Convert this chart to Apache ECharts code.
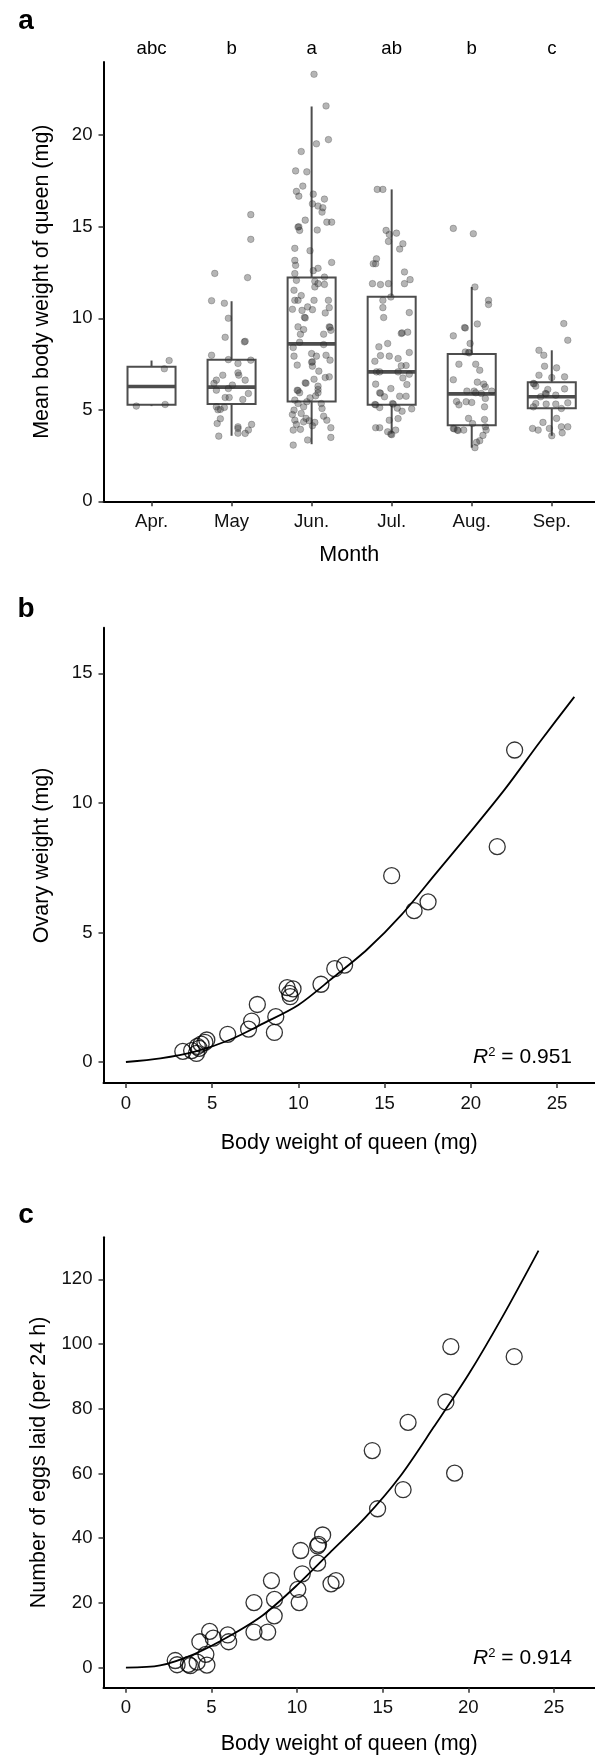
<!DOCTYPE html>
<html lang="en">
<head>
    <meta charset="UTF-8">
    <title>Queen body weight</title>
    <script src="https://cdn.jsdelivr.net/npm/echarts@6/dist/echarts.min.js"></script>
    <style>
        html, body { margin: 0; padding: 0; background: #fff; }
        #main { width: 595px; height: 1756px; }
    </style>
</head>
<body>
<div id="main"></div>
<script>
    // ---- panel a : monthly body weight ----
    var months = ['Apr.', 'May', 'Jun.', 'Jul.', 'Aug.', 'Sep.'];
    var groupLetters = ['abc', 'b', 'a', 'ab', 'b', 'c'];
    // [min, q1, median, q3, max]
    var boxStats = [
        [5.20, 5.27, 6.27, 7.35, 7.69],
        [3.58, 5.31, 6.24, 7.73, 10.93],
        [3.12, 5.45, 8.60, 12.22, 21.57],
        [3.70, 5.27, 7.07, 11.17, 17.04],
        [2.93, 4.15, 5.87, 8.05, 11.71],
        [3.58, 5.09, 5.71, 6.51, 8.25]
    ];
    // jittered points: [offset from month centre, weight]
    var aprPts = [[0.22, 7.69], [0.16, 7.24], [-0.19, 5.2], [0.17, 5.29]];
    var mayPts = [[-0.21, 12.45], [0.2, 12.22], [0.24, 15.66], [0.24, 14.31], [-0.25, 10.96], [-0.09, 10.82], [-0.04, 10.0],
        [-0.08, 8.96], [0.16, 8.71], [0.17, 8.74], [-0.25, 7.98], [-0.04, 7.74], [0.24, 7.71], [0.08, 7.53], [-0.11, 6.89],
        [0.09, 6.89], [0.08, 7.02], [0.17, 6.62], [-0.19, 6.62], [-0.22, 6.44], [0.01, 6.35], [-0.04, 6.16], [-0.19, 6.07],
        [0.21, 5.89], [-0.08, 5.67], [-0.03, 5.67], [0.14, 5.56], [-0.19, 5.16], [-0.14, 5.02], [-0.17, 5.0], [-0.09, 5.13],
        [-0.14, 4.51], [-0.18, 4.25], [0.25, 4.2], [0.08, 4.07], [0.08, 3.98], [0.21, 3.89], [0.17, 3.71], [0.08, 3.72], [-0.16, 3.56]];
    var junPts = [[0.03, 23.33], [0.18, 21.6], [0.21, 19.76], [0.06, 19.53], [-0.13, 19.11], [-0.2, 18.05], [-0.06, 18.0],
        [-0.11, 17.22], [-0.19, 16.93], [-0.16, 16.67], [0.02, 16.78], [0.16, 16.51], [0.01, 16.25], [0.08, 16.13], [0.14, 16.04],
        [0.13, 15.8], [-0.08, 15.36], [0.19, 15.25], [0.25, 15.25], [-0.17, 14.98], [-0.16, 15.0], [-0.15, 14.8], [0.07, 14.82],
        [-0.21, 13.82], [-0.02, 13.69], [-0.21, 13.16], [-0.2, 12.89], [0.25, 13.05], [0.08, 12.73], [0.02, 12.6], [-0.21, 12.44],
        [-0.19, 12.07], [0.04, 12.02], [0.16, 12.25], [0.08, 11.89], [0.16, 11.85], [0.04, 11.71], [-0.22, 11.53], [-0.13, 11.24],
        [-0.21, 10.98], [-0.17, 10.98], [0.03, 10.98], [0.21, 10.98], [0.22, 10.58], [-0.24, 10.49], [-0.12, 10.43], [-0.05, 10.62],
        [0.01, 10.47], [0.17, 10.29], [-0.09, 10.05], [-0.08, 10.02], [-0.17, 9.53], [-0.1, 9.38], [-0.14, 9.13], [0.22, 9.53],
        [0.23, 9.5], [0.24, 9.34], [0.15, 9.13], [-0.15, 8.69], [0.15, 8.56], [-0.23, 8.4], [-0.22, 7.93], [0, 8.07], [0.06, 7.93],
        [0.18, 7.98], [0.01, 7.62], [0.0, 7.6], [0.23, 7.71], [-0.18, 7.44], [0.01, 7.38], [0.09, 7.11], [0.17, 6.76], [0.22, 6.8],
        [0.03, 6.67], [-0.08, 6.47], [-0.07, 6.45], [0.08, 6.29], [-0.18, 6.07], [-0.17, 6.05], [-0.15, 5.93], [0.08, 6.11], [0.08, 5.93],
        [0.05, 5.76], [-0.02, 5.65], [-0.21, 5.53], [-0.06, 5.44], [-0.17, 5.34], [0.12, 5.34], [0.13, 5.07], [-0.1, 5.16],
        [-0.22, 4.98], [-0.13, 4.8], [-0.07, 4.53], [-0.03, 4.4], [0.04, 4.31], [0.15, 4.65], [0.19, 4.43], [-0.21, 4.43],
        [-0.19, 4.2], [-0.24, 4.74], [-0.1, 4.34], [0.01, 4.13], [-0.23, 3.89], [-0.14, 3.93], [0.24, 4.02], [0.24, 3.49],
        [-0.05, 3.35], [-0.23, 3.07]];
    var julPts = [[-0.18, 17.04], [-0.11, 17.04], [-0.07, 14.8], [-0.03, 14.58], [0.06, 14.65], [-0.04, 14.2], [0.14, 14.07],
        [0.1, 13.78], [-0.19, 13.25], [-0.23, 12.98], [-0.2, 12.98], [0.16, 12.53], [0.23, 12.11], [0.16, 11.89], [-0.04, 11.89],
        [-0.14, 11.84], [-0.24, 11.89], [-0.01, 11.16], [-0.11, 10.98], [-0.11, 10.58], [0.22, 10.31], [-0.1, 10.04], [0.13, 9.2],
        [0.12, 9.17], [0.2, 9.24], [-0.16, 8.44], [-0.05, 8.62], [0.22, 8.13], [-0.14, 7.96], [-0.03, 7.93], [0.08, 7.8],
        [-0.21, 7.65], [0.12, 7.4], [0.18, 7.42], [-0.19, 7.07], [-0.15, 7.07], [0.08, 7.07], [0.22, 6.94], [0.14, 6.74],
        [-0.2, 6.4], [0.19, 6.38], [-0.01, 6.16], [-0.15, 5.93], [-0.14, 5.9], [-0.09, 5.71], [0.1, 5.74], [0.18, 5.74],
        [-0.21, 5.29], [-0.2, 5.27], [0.01, 5.34], [0.02, 5.31], [-0.15, 5.12], [0.07, 5.09], [0.13, 4.92], [0.25, 5.05],
        [-0.03, 4.43], [0.08, 4.52], [-0.2, 4.02], [-0.15, 4.02], [-0.05, 3.8], [-0.01, 3.67], [0.0, 3.64], [0.05, 3.89]];
    var augPts = [[-0.23, 14.91], [0.02, 14.62], [0.04, 11.71], [0.21, 10.98], [0.21, 10.75], [-0.09, 9.49], [-0.08, 9.47],
        [0.07, 9.69], [-0.23, 9.04], [-0.02, 8.62], [-0.08, 8.16], [-0.04, 8.13], [-0.03, 8.11], [-0.16, 7.49], [0.05, 7.49],
        [0.1, 7.16], [-0.23, 6.64], [0.07, 6.51], [0.15, 6.4], [0.17, 6.25], [-0.06, 6.02], [0.03, 6.02], [0.05, 5.93],
        [0.12, 5.89], [0.25, 6.02], [0.17, 5.62], [-0.19, 5.45], [-0.16, 5.27], [-0.07, 5.44], [0, 5.4], [0.16, 5.16],
        [-0.04, 4.53], [-0.23, 3.98], [-0.22, 3.96], [-0.18, 3.89], [-0.17, 3.87], [-0.1, 3.89], [0.01, 4.25], [0.16, 4.47],
        [0.17, 4.07], [0.18, 3.89], [0.14, 3.6], [0.1, 3.31], [0.06, 3.22], [0.04, 2.93]];
    var sepPts = [[0.15, 9.71], [0.2, 8.8], [-0.16, 8.25], [-0.1, 7.98], [-0.09, 7.38], [0.06, 7.29], [-0.16, 6.89],
        [0.16, 6.8], [0, 6.76], [-0.23, 6.44], [-0.22, 6.42], [-0.2, 6.29], [-0.05, 6.11], [0.16, 6.14], [-0.08, 5.89],
        [-0.07, 5.87], [0.05, 5.8], [-0.14, 5.71], [0.2, 5.38], [-0.2, 5.34], [-0.07, 5.31], [0.05, 5.31], [0.12, 5.07],
        [-0.23, 5.16], [-0.24, 3.98], [-0.17, 3.89], [-0.11, 4.31], [-0.03, 3.98], [0, 3.58], [0.12, 4.07], [0.06, 4.53],
        [0.2, 4.07], [0.13, 3.74]];
    var monthPts = [aprPts, mayPts, junPts, julPts, augPts, sepPts];

    // ---- panel b : ovary weight vs body weight ----
    var bodyB = [15.41, 21.53, 16.71, 17.52, 12.68, 12.11, 11.31, 9.35, 9.69, 9.49, 9.53, 7.62, 8.69, 7.29, 7.11, 8.61,
        5.9, 4.69, 4.58, 4.36, 4.25, 4.09, 3.81, 3.3, 4.14, 22.54];
    var ovaryB = [7.19, 8.31, 5.84, 6.18, 3.74, 3.6, 3.0, 2.87, 2.82, 2.65, 2.52, 2.22, 1.75, 1.58, 1.27, 1.14,
        1.07, 0.85, 0.76, 0.69, 0.53, 0.33, 0.44, 0.41, 0.6, 12.04];
    // fitted curve
    var fitXB = [0, 2, 4, 6, 8, 10, 12, 14, 16, 18, 20, 22, 24, 26];
    var fitYB = [0, 0.14, 0.4, 0.85, 1.5, 2.2, 3.25, 4.35, 5.7, 7.3, 8.9, 10.55, 12.35, 14.09];

    // ---- panel c : eggs laid vs body weight ----
    var bodyC = [14.39, 16.48, 19.2, 16.19, 14.7, 11.49, 11.25, 11.2, 10.21, 11.2, 10.3, 10.04, 10.12, 12.27, 11.98,
        8.5, 8.68, 8.66, 7.48, 7.48, 8.28, 5.95, 6.0, 4.89, 5.1, 4.32, 4.67, 4.16, 4.73, 3.76, 3.65, 2.88, 2.99,
        18.98, 22.68, 18.69];
    var eggsC = [67.1, 75.8, 60.1, 55.0, 49.1, 41.0, 38.1, 37.6, 36.2, 32.3, 29.0, 24.2, 20.1, 26.9, 25.9,
        26.9, 21.1, 16.0, 20.1, 11.0, 11.0, 10.1, 8.0, 11.2, 9.1, 8.0, 4.1, 1.7, 0.8, 0.6, 1.0, 2.2, 0.9,
        99.2, 96.1, 82.1];
    var fitXC = [0, 2, 4, 6, 8, 10, 12, 14, 16, 18, 20, 22, 24.1];
    var fitYC = [0, 0.7, 4.2, 9.6, 16.2, 25.5, 36, 46.5, 59, 74.5, 90.5, 108.5, 128.9];

    var FONT = '"Liberation Sans", Arial, sans-serif';
    var tickFs = 18.6, titleFs = 21.5;

    function zip(xs, ys) {
        return xs.map(function (x, i) { return [x, ys[i]]; });
    }

    function axisBase(extra) {
        var a = {
            type: 'value',
            splitLine: {show: false},
            axisLine: {show: true, onZero: false, lineStyle: {color: '#000', width: 2}},
            axisTick: {show: true, length: 5, lineStyle: {color: '#333', width: 1.5}},
            axisLabel: {color: '#111', fontSize: tickFs, fontFamily: FONT},
            nameTextStyle: {color: '#000', fontSize: titleFs, fontFamily: FONT},
            nameLocation: 'middle'
        };
        for (var k in extra) {
            if (typeof extra[k] === 'object' && a[k] && !Array.isArray(extra[k])) {
                for (var j in extra[k]) a[k][j] = extra[k][j];
            } else {
                a[k] = extra[k];
            }
        }
        return a;
    }

    // box + whiskers + thick median, no end caps (like ggplot)
    function renderBox(params, api) {
        var x = api.value(0);
        var lo = api.coord([x, api.value(1)]);
        var q1 = api.coord([x, api.value(2)]);
        var md = api.coord([x, api.value(3)]);
        var q3 = api.coord([x, api.value(4)]);
        var hi = api.coord([x, api.value(5)]);
        var w = api.size([0.6, 0])[0];
        var st = {stroke: '#4d4d4d', lineWidth: 2, fill: null};
        return {
            type: 'group',
            children: [
                {type: 'line', shape: {x1: q3[0], y1: q3[1], x2: hi[0], y2: hi[1]}, style: st},
                {type: 'line', shape: {x1: q1[0], y1: q1[1], x2: lo[0], y2: lo[1]}, style: st},
                {type: 'rect', shape: {x: q3[0] - w / 2, y: q3[1], width: w, height: q1[1] - q3[1]}, style: st},
                {type: 'line', shape: {x1: md[0] - w / 2, y1: md[1], x2: md[0] + w / 2, y2: md[1]},
                    style: {stroke: '#4d4d4d', lineWidth: 3.6}}
            ]
        };
    }

    var boxData = boxStats.map(function (s, i) { return [i + 1].concat(s); });
    var jitterData = [];
    monthPts.forEach(function (pts, i) {
        pts.forEach(function (p) { jitterData.push([i + 1 + p[0], p[1]]); });
    });

    var myChart = echarts.init(document.getElementById('main'), null, {renderer: 'canvas'});

    var option = {
        backgroundColor: '#fff',
        animation: false,
        grid: [
            {left: 103.5, right: 0, top: 62, height: 439.3},
            {left: 103.5, right: 0, top: 627.7, height: 455.3},
            {left: 103.5, right: 0, top: 1237.3, height: 450.4}
        ],
        xAxis: [
            axisBase({
                gridIndex: 0, min: 0.4, max: 6.54, name: 'Month', nameGap: 43,
                axisTick: {customValues: [1, 2, 3, 4, 5, 6]},
                axisLabel: {customValues: [1, 2, 3, 4, 5, 6], margin: 11,
                    formatter: function (v) { return months[Math.round(v) - 1]; }}
            }),
            axisBase({
                gridIndex: 0, min: 0.4, max: 6.54, position: 'top',
                axisLine: {show: false}, axisTick: {show: false},
                axisLabel: {customValues: [1, 2, 3, 4, 5, 6], margin: 4, color: '#000',
                    formatter: function (v) { return groupLetters[Math.round(v) - 1]; }}
            }),
            axisBase({
                gridIndex: 1, min: -1.3, max: 27.2, name: 'Body weight of queen (mg)', nameGap: 49,
                axisTick: {customValues: [0, 5, 10, 15, 20, 25]},
                axisLabel: {customValues: [0, 5, 10, 15, 20, 25], margin: 11}
            }),
            axisBase({
                gridIndex: 2, min: -1.31, max: 27.4, name: 'Body weight of queen (mg)', nameGap: 45,
                axisTick: {customValues: [0, 5, 10, 15, 20, 25]},
                axisLabel: {customValues: [0, 5, 10, 15, 20, 25], margin: 11}
            })
        ],
        yAxis: [
            axisBase({
                gridIndex: 0, min: 0, max: 24, name: 'Mean body weight of queen (mg)', nameGap: 50,
                axisTick: {customValues: [0, 5, 10, 15, 20]},
                axisLabel: {customValues: [0, 5, 10, 15, 20], margin: 11}
            }),
            axisBase({
                gridIndex: 1, min: -0.81, max: 16.76, name: 'Ovary weight (mg)', nameGap: 50,
                axisTick: {customValues: [0, 5, 10, 15]},
                axisLabel: {customValues: [0, 5, 10, 15], margin: 11}
            }),
            axisBase({
                gridIndex: 2, min: -6.2, max: 133, name: 'Number of eggs laid (per 24 h)', nameGap: 50,
                axisTick: {customValues: [0, 20, 40, 60, 80, 100, 120]},
                axisLabel: {customValues: [0, 20, 40, 60, 80, 100, 120], margin: 11}
            })
        ],
        series: [
            {
                type: 'custom', xAxisIndex: 0, yAxisIndex: 0, z: 2, silent: true,
                renderItem: renderBox, data: boxData,
                encode: {x: 0, y: [1, 2, 3, 4, 5]}
            },
            {
                type: 'scatter', xAxisIndex: 0, yAxisIndex: 0, z: 3, silent: true,
                symbol: 'circle', symbolSize: 6.6,
                itemStyle: {color: 'rgba(50,50,50,0.45)', borderColor: 'rgba(30,30,30,0.5)', borderWidth: 0.6},
                data: jitterData
            },
            {
                type: 'line', xAxisIndex: 2, yAxisIndex: 1, smooth: 0.3,
                showSymbol: false, silent: true, z: 2,
                lineStyle: {color: '#000', width: 1.8},
                data: zip(fitXB, fitYB)
            },
            {
                type: 'scatter', xAxisIndex: 2, yAxisIndex: 1, z: 3, silent: true,
                symbol: 'circle', symbolSize: 16,
                itemStyle: {color: 'rgba(255,255,255,0)', borderColor: '#000', borderWidth: 1.3},
                data: zip(bodyB, ovaryB)
            },
            {
                type: 'line', xAxisIndex: 3, yAxisIndex: 2, smooth: 0.3,
                showSymbol: false, silent: true, z: 2,
                lineStyle: {color: '#000', width: 1.8},
                data: zip(fitXC, fitYC)
            },
            {
                type: 'scatter', xAxisIndex: 3, yAxisIndex: 2, z: 3, silent: true,
                symbol: 'circle', symbolSize: 16,
                itemStyle: {color: 'rgba(255,255,255,0)', borderColor: '#000', borderWidth: 1.3},
                data: zip(bodyC, eggsC)
            }
        ],
        graphic: [
            {type: 'text', x: 26, y: 21, style: {text: 'a', font: 'bold 28px ' + FONT, fill: '#000',
                    align: 'center', verticalAlign: 'middle', textAlign: 'center', textVerticalAlign: 'middle'}},
            {type: 'text', x: 26, y: 609, style: {text: 'b', font: 'bold 28px ' + FONT, fill: '#000',
                    align: 'center', verticalAlign: 'middle', textAlign: 'center', textVerticalAlign: 'middle'}},
            {type: 'text', x: 26, y: 1215, style: {text: 'c', font: 'bold 28px ' + FONT, fill: '#000',
                    align: 'center', verticalAlign: 'middle', textAlign: 'center', textVerticalAlign: 'middle'}},
            {type: 'text', x: 572, y: 1057, style: {
                    text: '{i|R}{s|2}{n| = 0.951}', align: 'right', verticalAlign: 'middle',
                    textAlign: 'right', textVerticalAlign: 'middle',
                    rich: {
                        i: {fontStyle: 'italic', fontSize: 21, fontFamily: FONT, color: '#000'},
                        s: {fontSize: 13, fontFamily: FONT, color: '#000', verticalAlign: 'top', padding: [0, 0, 10, 0]},
                        n: {fontSize: 21, fontFamily: FONT, color: '#000'}
                    }}},
            {type: 'text', x: 572, y: 1658, style: {
                    text: '{i|R}{s|2}{n| = 0.914}', align: 'right', verticalAlign: 'middle',
                    textAlign: 'right', textVerticalAlign: 'middle',
                    rich: {
                        i: {fontStyle: 'italic', fontSize: 21, fontFamily: FONT, color: '#000'},
                        s: {fontSize: 13, fontFamily: FONT, color: '#000', verticalAlign: 'top', padding: [0, 0, 10, 0]},
                        n: {fontSize: 21, fontFamily: FONT, color: '#000'}
                    }}}
        ]
    };

    myChart.setOption(option);
</script>
</body>
</html>
